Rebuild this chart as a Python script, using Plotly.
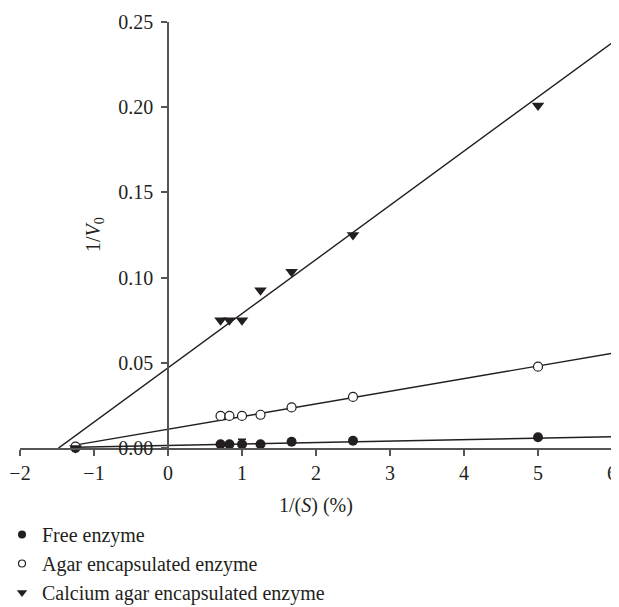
import plotly.graph_objects as go

# data
x_vals = [-1.25, 0.71, 0.83, 1.0, 1.25, 1.67, 2.5, 5.0]
free_y = [0.0, 0.0022, 0.0022, 0.0022, 0.0022, 0.0037, 0.0043, 0.0063]
free_err = [0, 0, 0, 0.003, 0, 0, 0, 0]
agar_y = [0.0008, 0.0188, 0.0188, 0.0188, 0.0195, 0.0238, 0.030, 0.0477]
calc_y = [0.0, 0.075, 0.075, 0.075, 0.0926, 0.1034, 0.125, 0.201]

# fitted lines: (x_start, x_end, intercept, slope)
free_fit = (-1.25, 6.0, 0.0015, 0.00085)
agar_fit = (-1.22, 6.0, 0.011, 0.00742)
calc_fit = (-1.48, 6.0, 0.047, 0.0318)

names = ["Free enzyme", "Agar encapsulated enzyme", "Calcium agar encapsulated enzyme"]

FONT = "Liberation Serif"
INK = "#231f20"
AX = "#555555"

# page offset compensation (body margin)
OFF = 8
W, H = 611, 607
L, T = 20 - OFF, 22 - OFF
plot_right = 612 - OFF
plot_bottom = 448 - OFF
R = W - plot_right
B = H - plot_bottom
PW, PH = W - L - R, H - T - B

fig = go.Figure()

for fit in (free_fit, agar_fit, calc_fit):
    xs = [fit[0], fit[1]]
    ys = [fit[2] + fit[3] * v for v in xs]
    fig.add_trace(go.Scatter(x=xs, y=ys, mode="lines", line=dict(color=INK, width=1.4),
                             showlegend=False, hoverinfo="skip", cliponaxis=False))

fig.add_trace(go.Scatter(x=x_vals, y=free_y, mode="markers", showlegend=False, cliponaxis=False,
                         marker=dict(symbol="circle", size=10, color=INK),
                         error_y=dict(type="data", array=free_err, arrayminus=[0]*len(free_err),
                                      color=INK, thickness=1.5, width=4)))
fig.add_trace(go.Scatter(x=x_vals, y=agar_y, mode="markers", showlegend=False, cliponaxis=False,
                         marker=dict(symbol="circle", size=9, color="white",
                                     line=dict(color=INK, width=1.2))))
fig.add_trace(go.Scatter(x=x_vals, y=calc_y, mode="markers", showlegend=False, cliponaxis=False,
                         marker=dict(symbol="triangle-down", size=11, color=INK)))

# legend entries
fig.add_trace(go.Scatter(x=[None], y=[None], mode="markers", name=names[0],
                         marker=dict(symbol="circle", size=8, color=INK)))
fig.add_trace(go.Scatter(x=[None], y=[None], mode="markers", name=names[1],
                         marker=dict(symbol="circle", size=7, color="white", line=dict(color=INK, width=1.2))))
fig.add_trace(go.Scatter(x=[None], y=[None], mode="markers", name=names[2],
                         marker=dict(symbol="triangle-down", size=9, color=INK)))

fig.update_layout(
    template="none",
    width=W, height=H,
    margin=dict(l=L, r=R, t=T, b=B, autoexpand=False),
    paper_bgcolor="white", plot_bgcolor="white",
    font=dict(family=FONT, size=20, color=INK),
    showlegend=True,
    legend=dict(x=(-6 - L) / PW, y=(plot_bottom - (612 - OFF)) / PH, xanchor="left", yanchor="bottom",
                orientation="v", tracegroupgap=0, font=dict(size=20, family=FONT, color=INK),
                bgcolor="rgba(0,0,0,0)", borderwidth=0),
    xaxis=dict(range=[-2, 6], dtick=1, tick0=0, showgrid=False, zeroline=False, automargin=False,
               showline=True, linecolor=AX, linewidth=1.5, ticks="outside", ticklen=6,
               tickcolor=AX, tickwidth=1.5, ticklabeloverflow="allow",
               tickfont=dict(size=20, family=FONT, color=INK)),
    yaxis=dict(range=[0, 0.25], tickvals=[0, 0.05, 0.10, 0.15, 0.20, 0.25], tickformat=".2f",
               showgrid=False, zeroline=False, anchor="free", position=0.25, automargin=False,
               showline=True, linecolor=AX, linewidth=1.5, ticks="outside", ticklen=6,
               ticklabelstandoff=4,
               tickcolor=AX, tickwidth=1.5, tickfont=dict(size=20, family=FONT, color=INK)),
    annotations=[
        dict(text="1/(<i>S</i>) (%)", xref="paper", yref="paper", x=(316 - OFF - L) / PW,
             y=(plot_bottom - (505 - OFF)) / PH,
             xanchor="center", yanchor="middle", showarrow=False, font=dict(size=20, family=FONT, color=INK)),
        dict(text="1/<i>V</i><sub>0</sub>", xref="paper", yref="paper", x=(94 - OFF - L) / PW, y=0.5,
             xanchor="center", yanchor="middle", textangle=-90, showarrow=False,
             font=dict(size=20, family=FONT, color=INK)),
    ],
)

fig.write_html("out.html")
